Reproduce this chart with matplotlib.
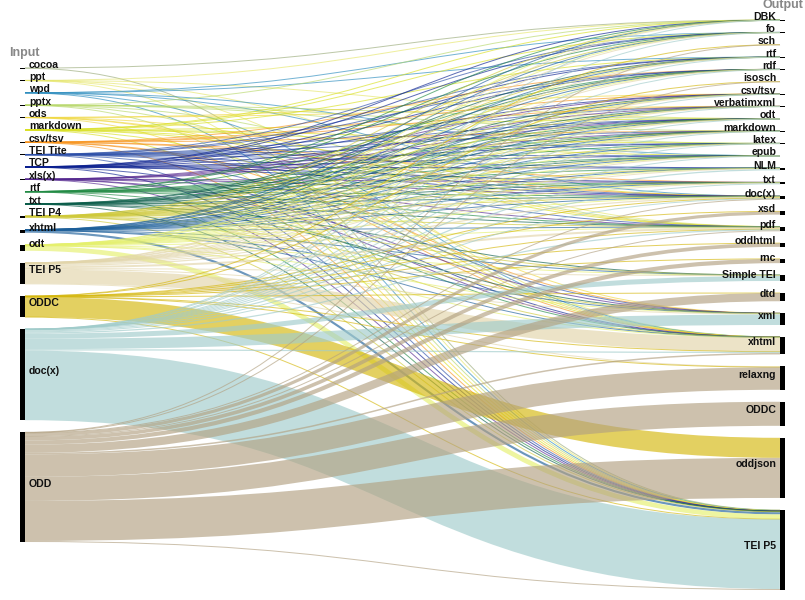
import matplotlib.pyplot as plt
from matplotlib.path import Path
from matplotlib.patches import PathPatch, Rectangle

plt.rcParams['font.family'] = ['Liberation Sans', 'DejaVu Sans']

# input formats (left column, top to bottom)
sources = ["cocoa", "ppt", "wpd", "pptx", "ods", "markdown", "csv/tsv", "TEI Tite", "TCP",
           "xls(x)", "rtf", "txt", "TEI P4", "xhtml", "odt", "TEI P5", "ODDC", "doc(x)", "ODD"]
source_colors = ["#9aab7a", "#e6e66a", "#2b8cbe", "#b8d86b", "#f0d840", "#d9e021", "#f7941d",
                 "#2c4fa8", "#0a1f8f", "#54278f", "#238b45", "#0b5d4a", "#cfc93a", "#1d5f9a",
                 "#e5f06d", "#e2d5aa", "#d5b70d", "#a1cccb", "#b2a182"]

# output formats (right column, top to bottom)
targets = ["DBK", "fo", "sch", "rtf", "rdf", "isosch", "csv/tsv", "verbatimxml", "odt",
           "markdown", "latex", "epub", "NLM", "txt", "doc(x)", "xsd", "pdf", "oddhtml", "rnc",
           "Simple TEI", "dtd", "xml", "xhtml", "relaxng", "ODDC", "oddjson", "TEI P5"]

# conversions per input format
from_cocoa = {"DBK": 2, "TEI P5": 12}
from_ppt = {"DBK": 2, "odt": 2, "pdf": 2, "xhtml": 2, "TEI P5": 6}
from_wpd = {"fo": 1, "rtf": 1, "epub": 2, "doc(x)": 2, "xhtml": 2, "TEI P5": 6}
from_pptx = {"DBK": 1, "odt": 1, "markdown": 1, "latex": 1, "pdf": 2, "xhtml": 2, "TEI P5": 6}
from_ods = {"csv/tsv": 2, "verbatimxml": 1, "pdf": 1, "xml": 2, "xhtml": 2, "TEI P5": 6}
from_markdown = {"DBK": 1, "fo": 1, "rtf": 1, "odt": 1, "latex": 1, "epub": 1, "doc(x)": 1,
                 "pdf": 1, "xhtml": 2, "TEI P5": 4}
from_csv = {"rdf": 1, "csv/tsv": 2, "verbatimxml": 1, "markdown": 1, "txt": 1, "doc(x)": 1,
            "xml": 2, "xhtml": 1, "TEI P5": 4}
from_tite = {"fo": 1, "rtf": 1, "rdf": 1, "verbatimxml": 1, "odt": 1, "markdown": 1, "latex": 1,
             "epub": 1, "NLM": 1, "doc(x)": 1, "pdf": 1, "xml": 1, "TEI P5": 2}
from_tcp = {"DBK": 1, "fo": 1, "rtf": 1, "rdf": 1, "csv/tsv": 1, "odt": 1, "latex": 1, "epub": 1,
            "NLM": 1, "txt": 1, "doc(x)": 1, "xhtml": 1, "TEI P5": 2}
from_xls = {"csv/tsv": 2, "verbatimxml": 1, "odt": 1, "markdown": 1, "txt": 1, "doc(x)": 1,
            "pdf": 1, "xml": 1, "xhtml": 1, "TEI P5": 4}
from_rtf = {"DBK": 1, "fo": 1, "rdf": 1, "odt": 1, "markdown": 1, "latex": 1, "epub": 1, "NLM": 1,
            "txt": 1, "doc(x)": 1, "pdf": 1, "xhtml": 1, "TEI P5": 2}
from_txt = {"rtf": 1, "rdf": 1, "csv/tsv": 1, "verbatimxml": 1, "odt": 1, "markdown": 1, "epub": 1,
            "txt": 1, "doc(x)": 1, "pdf": 1, "Simple TEI": 1, "xml": 1, "TEI P5": 2}
from_p4 = {"DBK": 1, "fo": 1, "rtf": 1, "rdf": 1, "csv/tsv": 1, "verbatimxml": 1, "odt": 1,
           "markdown": 1, "latex": 1, "epub": 1, "NLM": 2, "txt": 2, "doc(x)": 2, "pdf": 2,
           "Simple TEI": 2, "xml": 2, "xhtml": 3, "TEI P5": 35}
from_xhtml = {"DBK": 1, "fo": 1, "rtf": 1, "rdf": 1, "csv/tsv": 1, "verbatimxml": 1, "odt": 1,
              "markdown": 1, "latex": 1, "epub": 1, "NLM": 4, "txt": 3, "doc(x)": 4, "pdf": 4,
              "Simple TEI": 4, "xml": 4, "xhtml": 2, "TEI P5": 86}
from_odt = {"DBK": 1, "fo": 1, "rtf": 1, "rdf": 1, "csv/tsv": 1, "verbatimxml": 1, "odt": 1,
            "markdown": 1, "latex": 1, "epub": 1, "NLM": 6, "txt": 4, "doc(x)": 6, "pdf": 6,
            "Simple TEI": 6, "xml": 6, "xhtml": 6, "TEI P5": 190}
from_p5 = {"DBK": 3, "fo": 3, "rtf": 3, "rdf": 3, "csv/tsv": 3, "verbatimxml": 3, "odt": 3,
           "markdown": 3, "latex": 3, "epub": 3, "NLM": 30, "txt": 30, "doc(x)": 50, "pdf": 80,
           "Simple TEI": 20, "xml": 30, "xhtml": 560, "relaxng": 24}
from_oddc = {"sch": 1, "isosch": 1, "doc(x)": 2, "xsd": 4, "pdf": 2, "oddhtml": 4, "rnc": 4,
             "dtd": 4, "xhtml": 2, "relaxng": 8, "oddjson": 800, "TEI P5": 8}
from_docx = {"DBK": 1, "fo": 1, "rtf": 1, "rdf": 1, "csv/tsv": 1, "verbatimxml": 1, "odt": 1,
             "markdown": 1, "latex": 1, "epub": 1, "NLM": 50, "txt": 30, "doc(x)": 40, "pdf": 50,
             "Simple TEI": 200, "xml": 420, "xhtml": 50, "TEI P5": 2780}
from_odd = {"sch": 12, "isosch": 12, "doc(x)": 12, "xsd": 126, "pdf": 26, "oddhtml": 146,
            "rnc": 166, "dtd": 326, "xhtml": 60, "relaxng": 898, "ODDC": 960, "oddjson": 1600,
            "TEI P5": 40}

outgoing = [from_cocoa, from_ppt, from_wpd, from_pptx, from_ods, from_markdown, from_csv,
            from_tite, from_tcp, from_xls, from_rtf, from_txt, from_p4, from_xhtml, from_odt,
            from_p5, from_oddc, from_docx, from_odd]

# layout (pixel units, 805x600 canvas)
pad = 12
top, bottom = 20, 590
x_left, x_right, node_w = 20, 780, 5

src_val = [sum(d.values()) for d in outgoing]
tgt_val = [sum(d.get(t, 0) for d in outgoing) for t in targets]
ky = min((bottom - top - (len(sources) - 1) * pad) / sum(src_val),
         (bottom - top - (len(targets) - 1) * pad) / sum(tgt_val))


def stack(vals):
    hs = [v * ky for v in vals]
    total = sum(hs) + pad * (len(hs) - 1)
    y = top + (bottom - top - total) / 2
    ys = []
    for h in hs:
        ys.append(y)
        y += h + pad
    return ys, hs


sy, sh = stack(src_val)
ty, th = stack(tgt_val)

fig = plt.figure(figsize=(8.05, 6.0), dpi=100)
ax = fig.add_axes([0, 0, 1, 1])
ax.set_xlim(0, 805)
ax.set_ylim(600, 0)
ax.axis('off')

# link offsets: at source sorted by target order, at target sorted by source order
t_off = [0.0] * len(targets)
t_start = {}
for j, t in enumerate(targets):
    for i, d in enumerate(outgoing):
        if t in d:
            t_start[(i, j)] = ty[j] + t_off[j]
            t_off[j] += d[t] * ky

xm = (x_left + node_w + x_right) / 2
for i, d in enumerate(outgoing):
    off = sy[i]
    for j, t in enumerate(targets):
        if t not in d:
            continue
        w = d[t] * ky
        y0 = off + w / 2
        y1 = t_start[(i, j)] + w / 2
        off += w
        path = Path([(x_left + node_w, y0), (xm, y0), (xm, y1), (x_right, y1)],
                    [Path.MOVETO, Path.CURVE4, Path.CURVE4, Path.CURVE4])
        ax.add_patch(PathPatch(path, fill=False, edgecolor=source_colors[i], alpha=0.65,
                               lw=max(1.0, w) * 0.72, capstyle='butt'))

for i, s in enumerate(sources):
    ax.add_patch(Rectangle((x_left, sy[i]), node_w, max(sh[i], 0.6), color='black', lw=0))
    ax.text(x_left + node_w + 4, sy[i] + sh[i] / 2 - 3.5, s, ha='left', va='center',
            fontsize=7.6, fontweight='bold', color='#111111')

for j, t in enumerate(targets):
    ax.add_patch(Rectangle((x_right, ty[j]), node_w, max(th[j], 0.6), color='black', lw=0))
    ax.text(x_right - 4, ty[j] + th[j] / 2 - 3.5, t, ha='right', va='center',
            fontsize=7.6, fontweight='bold', color='#111111')

ax.text(9, 53, "Input", ha='left', va='center', fontsize=9, fontweight='bold', color='#888888')
ax.text(803, 5, "Output", ha='right', va='center', fontsize=9, fontweight='bold', color='#888888')

fig.savefig("out.png", dpi=100)
